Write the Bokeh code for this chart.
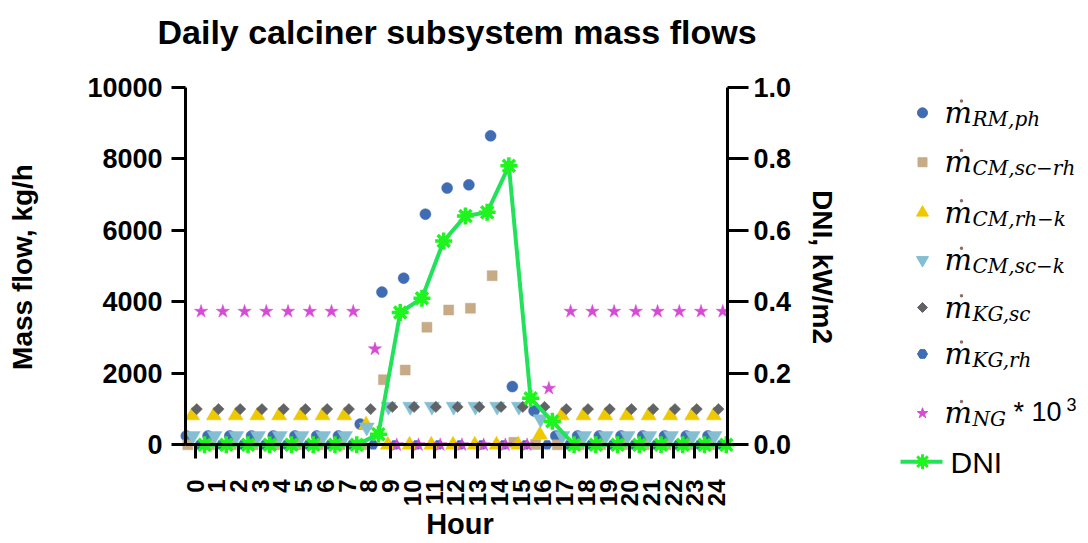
import math
from bokeh.plotting import figure
from bokeh.models import Range1d, LinearAxis, FixedTicker, PrintfTickFormatter
from bokeh.layouts import row
from bokeh.embed import file_html
from bokeh.resources import INLINE
from bokeh.core.properties import value

# ---------------- data ----------------
hours = [0, 1, 2, 3, 4, 5, 6, 7, 8, 9, 10, 11, 12, 13, 14, 15, 16, 17, 18, 19, 20, 21, 22, 23, 24]
y_left_ticks = [0, 2000, 4000, 6000, 8000, 10000]
y_right_ticks = [0.0, 0.2, 0.4, 0.6, 0.8, 1.0]

m_rm_ph = [250, 250, 250, 250, 250, 250, 250, 250, 580, 4270, 4660, 6450, 7180, 7270, 8640, 1630, 950,
           250, 250, 250, 250, 250, 250, 250, 250]
m_cm_sc_rh = [0, 0, 0, 0, 0, 0, 0, 0, 0, 1820, 2090, 3290, 3770, 3820, 4730, 70, 10,
              0, 0, 0, 0, 0, 0, 0, 0]
m_cm_rh_k = [820, 820, 820, 820, 820, 820, 820, 820, 560, 0, 0, 0, 0, 0, 0, 0, 280,
             820, 820, 820, 820, 820, 820, 820, 820]
m_cm_sc_k = [250, 250, 250, 250, 250, 250, 250, 250, 490, 1070, 1070, 1070, 1070, 1070, 1070, 1070, 720,
             250, 250, 250, 250, 250, 250, 250, 250]
m_kg_sc = [1000, 1000, 1000, 1000, 1000, 1000, 1000, 1000, 1000, 1060, 1060, 1060, 1060, 1060, 1060, 1060, 1060,
           1000, 1000, 1000, 1000, 1000, 1000, 1000, 1000]
m_kg_rh = [0, 0, 0, 0, 0, 0, 0, 0, 0, 0, 0, 0, 0, 0, 0, 0, 0,
           0, 0, 0, 0, 0, 0, 0, 0]
m_ng_x1000 = [3730, 3730, 3730, 3730, 3730, 3730, 3730, 3730, 2680, 0, 0, 0, 0, 0, 0, 0, 1580,
              3730, 3730, 3730, 3730, 3730, 3730, 3730, 3730]
dni = [0, 0, 0, 0, 0, 0, 0, 0, 0.03, 0.37, 0.41, 0.57, 0.64, 0.65, 0.78, 0.13, 0.066,
       0, 0, 0, 0, 0, 0, 0, 0]

legend_subscripts = ["RM,ph", "CM,sc\u2212rh", "CM,rh\u2212k", "CM,sc\u2212k", "KG,sc", "KG,rh", "NG"]

# ---------------- styles ----------------
FONT = "Liberation Sans"
BLUE = "#3F6CB2"
TAN = "#C6AB86"
YELLOW = "#EEC900"
LBLUE = "#84BED3"
GRAY = "#606266"
MAGENTA = "#D64BD4"
GREEN_LINE = "#22E25A"
GREEN_MK = "#1EF51E"

series = [
    # values, marker, size, color, x-offset (hours), angle
    (m_rm_ph, "circle", 11, BLUE, -0.40, 0.0),
    (m_cm_sc_rh, "square", 10, TAN, -0.33, 0.0),
    (m_cm_rh_k, "triangle", 15, YELLOW, -0.13, 0.0),
    (m_cm_sc_k, "inverted_triangle", 15, LBLUE, -0.10, 0.0),
    (m_kg_sc, "square", 8, GRAY, 0.08, math.pi / 4),
    (m_kg_rh, "hex", 10, BLUE, 0.20, 0.0),
    (m_ng_x1000, "star", 14, MAGENTA, 0.28, 0.0),
]
DNI_OFF = 0.44
draw_order = [0, 1, 5, 2, 3, 4, 6]

# ---------------- layout (pixels) ----------------
H = 543
W = 860
LW = 225
F_LEFT, F_RIGHT, F_TOP, F_BOT = 168, 751, 58, 480     # frame edges
TICK0_PX, PX_PER_H = 194.5, 21.737                    # x = 0 position, px per hour
ZERO_PX, PX_PER_UNIT = 449.0, 0.0362                  # y = 0 position, px per kg/h

X0 = (F_LEFT - TICK0_PX) / PX_PER_H
X1 = (F_RIGHT - TICK0_PX) / PX_PER_H
Y1 = (ZERO_PX - F_TOP) / PX_PER_UNIT
Y0 = -(F_BOT - ZERO_PX) / PX_PER_UNIT
AX_L, AX_R = -0.46, 24.48

p = figure(width=W, height=H, x_range=Range1d(X0, X1), y_range=Range1d(Y0, Y1),
           output_backend="svg", toolbar_location=None,
           min_border_left=F_LEFT, min_border_right=W - F_RIGHT,
           min_border_top=F_TOP, min_border_bottom=H - F_BOT)
p.extra_y_ranges = {"dni": Range1d(Y0 / 10000, Y1 / 10000)}
p.grid.visible = False
p.outline_line_color = None
p.background_fill_color = "white"
p.border_fill_color = "white"

p.title.text = "Daily calciner subsystem mass flows"
p.title.align = "left"
p.title.offset = -11
p.title.text_font = FONT
p.title.text_font_style = "bold"
p.title.text_font_size = "34px"
p.title.text_color = "black"
p.title.standoff = 16


def label_axis(ax, standoff, fsize):
    # axis used only for its texts (sits at the frame edge)
    ax.axis_line_color = None
    ax.major_tick_line_color = None
    ax.minor_tick_line_color = None
    ax.major_tick_out = 0
    ax.major_tick_in = 0
    ax.major_label_standoff = standoff
    ax.major_label_text_font = FONT
    ax.major_label_text_font_style = "bold"
    ax.major_label_text_font_size = fsize
    ax.major_label_text_color = "black"
    ax.axis_label_text_font = FONT
    ax.axis_label_text_font_style = "bold"
    ax.axis_label_text_font_size = "28px"
    ax.axis_label_text_color = "black"


def line_axis(ax, tick_len):
    # axis drawn at its data location: line and ticks only
    ax.axis_line_width = 3
    ax.axis_line_color = "black"
    ax.major_tick_line_width = 3
    ax.major_tick_line_color = "black"
    ax.minor_tick_line_color = None
    ax.major_tick_out = 0
    ax.major_tick_in = -tick_len
    ax.major_label_standoff = 0
    ax.major_label_text_font_size = "0px"
    ax.major_label_text_alpha = 0


# text axes
xa = p.xaxis[0]
label_axis(xa, 4, "24px")
xa.ticker = FixedTicker(ticks=hours)
xa.bounds = (AX_L, AX_R)
xa.major_label_orientation = math.pi / 2
xa.axis_label = "Hour"
xa.axis_label_text_font_size = "29px"
xa.axis_label_standoff = -1

ya = p.yaxis[0]
label_axis(ya, 6, "27px")
ya.ticker = FixedTicker(ticks=y_left_ticks)
ya.axis_label = "Mass flow, kg/h"
ya.axis_label_standoff = 46

ra = LinearAxis(y_range_name="dni")
label_axis(ra, 2, "27px")
ra.ticker = FixedTicker(ticks=y_right_ticks)
ra.formatter = PrintfTickFormatter(format="%.1f")
ra.axis_label = "DNI, kW/m2"
ra.axis_label_standoff = 13
p.add_layout(ra, "right")

# line axes
xb = LinearAxis(fixed_location=0, bounds=(AX_L, AX_R), ticker=FixedTicker(ticks=hours))
line_axis(xb, 14)
p.add_layout(xb, "below")

yb = LinearAxis(fixed_location=AX_L, bounds=(0, 10000), ticker=FixedTicker(ticks=y_left_ticks))
line_axis(yb, 14)
p.add_layout(yb, "left")

rb = LinearAxis(y_range_name="dni", fixed_location=AX_R, bounds=(0, 1), ticker=FixedTicker(ticks=y_right_ticks))
line_axis(rb, 21)
p.add_layout(rb, "right")

for i in draw_order:
    vals, mk, sz, col, off, ang = series[i]
    xs = [h + off for h in hours]
    p.scatter(xs, vals, marker=mk, size=sz, angle=ang, fill_color=col, line_color=col, line_width=0.5)

xd = [h + DNI_OFF for h in hours]
p.line(xd, dni, y_range_name="dni", line_color=GREEN_LINE, line_width=4)
p.scatter(xd, dni, y_range_name="dni", marker="circle", size=10, fill_color=GREEN_MK, line_color=None)
p.scatter(xd, dni, y_range_name="dni", marker="cross", size=17, line_color=GREEN_MK, line_width=3.5)
p.scatter(xd, dni, y_range_name="dni", marker="x", size=17, line_color=GREEN_MK, line_width=3.5)

# ---------------- legend panel (coordinates = page pixels) ----------------
lg = figure(width=LW, height=H, x_range=Range1d(W, W + LW), y_range=Range1d(F_BOT, F_TOP),
            output_backend="svg", toolbar_location=None, x_axis_type=None, y_axis_type=None,
            min_border_left=0, min_border_right=0, min_border_top=F_TOP, min_border_bottom=H - F_BOT)
lg.outline_line_color = None
lg.background_fill_color = "white"
lg.border_fill_color = "white"

BASE_SHIFT = 0.345   # svg text sits this many ems below the requested alphabetic baseline


def baseline(y, size_px):
    return y - BASE_SHIFT * size_px


entry_y = [113, 163, 214, 262, 310, 357, 417, 466]
MK_X = 922
legend_sizes = [10, 9, 12, 12, 7, 10, 11]
for i, (vals, mk, sz, col, off, ang) in enumerate(series):
    yy = entry_y[i]
    lg.scatter([MK_X], [yy], marker=mk, size=legend_sizes[i], angle=-ang if ang else 0.0,
               fill_color=col, line_color=col)
    lg.text([944], [baseline(yy + 10, 29)], text=["m"], text_font=value("DejaVu Serif"),
            text_font_style="italic", text_font_size="29px", text_color="black",
            text_baseline="alphabetic", text_align="left")
    lg.scatter([961], [yy - 12], marker="circle", size=3.5, fill_color="#8C6E6E", line_color=None)
    lg.text([972], [baseline(yy + 13, 20)], text=[legend_subscripts[i]], text_font=value("DejaVu Serif"),
            text_font_style="italic", text_font_size="20px", text_color="black",
            text_baseline="alphabetic", text_align="left")

ng_y = entry_y[6]
lg.text([1013], [baseline(ng_y + 8, 27)], text=["* 10"], text_font=value(FONT), text_font_size="27px",
        text_color="black", text_baseline="alphabetic", text_align="left")
lg.text([1066], [baseline(ng_y - 3, 18)], text=["3"], text_font=value(FONT), text_font_size="18px",
        text_color="black", text_baseline="alphabetic", text_align="left")

dy = entry_y[7]
lg.line([900, 942], [dy, dy], line_color=GREEN_LINE, line_width=4)
lg.scatter([MK_X], [dy], marker="circle", size=9, fill_color=GREEN_MK, line_color=None)
lg.scatter([MK_X], [dy], marker="cross", size=15, line_color=GREEN_MK, line_width=3)
lg.scatter([MK_X], [dy], marker="x", size=15, line_color=GREEN_MK, line_width=3)
lg.text([950], [baseline(dy + 11, 30)], text=["DNI"], text_font=value(FONT), text_font_size="30px",
        text_color="black", text_baseline="alphabetic", text_align="left")

layout = row(p, lg)
open("out.html", "w").write(file_html(layout, INLINE))
